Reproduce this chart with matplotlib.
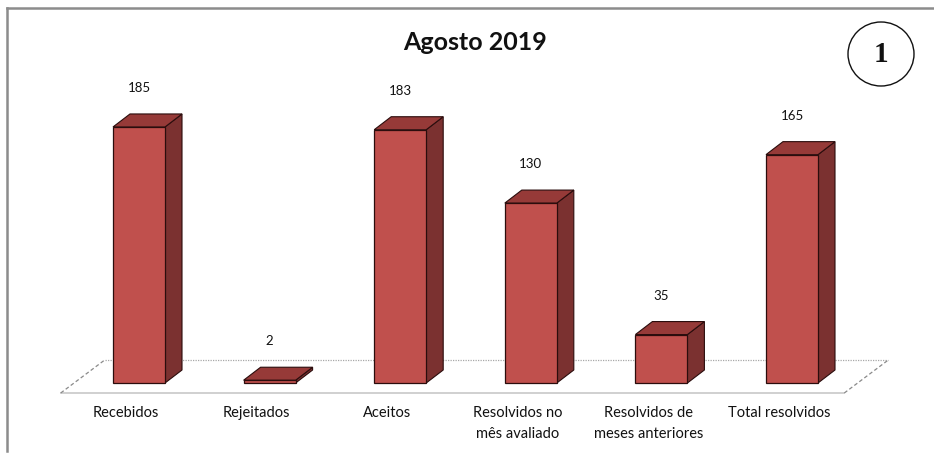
import matplotlib
matplotlib.use("Agg")
import matplotlib.pyplot as plt
from matplotlib.patches import Polygon, Ellipse
from matplotlib.lines import Line2D

categories = ["Recebidos", "Rejeitados", "Aceitos", "Resolvidos no\nmês avaliado",
              "Resolvidos de\nmeses anteriores", "Total resolvidos"]
values = [185, 2, 183, 130, 35, 165]
title = "Agosto 2019"
badge = "1"

FRONT = "#C0504D"
SIDE = "#7B3130"
TOP = "#963A38"
EDGE = "#2b0d0d"

W, H = 934, 453
fig = plt.figure(figsize=(W / 100, H / 100), dpi=100)
fig.patch.set_facecolor("white")

# axes geometry in pixels
left_px, right_px, base_px, ymax = 73.7, 857.3, 383.0, 200.0
uy_px = 1.384
top_px = base_px - ymax * uy_px
ax = fig.add_axes([left_px / W, (H - base_px) / H, (right_px - left_px) / W, (base_px - top_px) / H])
ax.set_xlim(-0.5, len(values) - 0.5)
ax.set_ylim(0, ymax)
ax.axis("off")

ux = (right_px - left_px) / len(values)  # px per x unit
uy = uy_px

def px(dx, dy):
    """pixel offset (right, up) -> data offset"""
    return dx / ux, dy / uy

fnt = ["Lato", "DejaVu Sans"]

# floor
fx0, fx1 = -0.5, len(values) - 0.5
fdx, fdy = px(-13, -10)
bdx, bdy = px(31, 23)
floor = Polygon([(fx0 + fdx, fdy), (fx1 + fdx, fdy), (fx1 + bdx, bdy), (fx0 + bdx, bdy)],
                closed=True, facecolor="white", edgecolor="none", zorder=1, clip_on=False)
ax.add_patch(floor)
ax.plot([fx0 + fdx, fx1 + fdx], [fdy, fdy], color="#c8c8c8", lw=1.2, zorder=1.1, clip_on=False)
ax.plot([fx0 + bdx, fx1 + bdx], [bdy, bdy], color="#a8a8a8", lw=0.9, ls=(0, (1, 1)), zorder=1.1, clip_on=False)
ax.plot([fx0 + fdx, fx0 + bdx], [fdy, bdy], color="#8a8a8a", lw=0.9, ls=(0, (3, 2)), zorder=1.1, clip_on=False)
ax.plot([fx1 + fdx, fx1 + bdx], [fdy, bdy], color="#8a8a8a", lw=0.9, ls=(0, (3, 2)), zorder=1.1, clip_on=False)

bw = 52 / ux
ddx, ddy = px(17, 13)
for i, v in enumerate(values):
    x0, x1 = i - bw / 2, i + bw / 2
    # side face
    ax.add_patch(Polygon([(x1, 0), (x1 + ddx, ddy), (x1 + ddx, v + ddy), (x1, v)],
                         closed=True, facecolor=SIDE, edgecolor=EDGE, lw=0.8, zorder=3, clip_on=False))
    # top face
    ax.add_patch(Polygon([(x0, v), (x0 + ddx, v + ddy), (x1 + ddx, v + ddy), (x1, v)],
                         closed=True, facecolor=TOP, edgecolor=EDGE, lw=0.8, zorder=3, clip_on=False))
    ax.bar(i, v, width=bw, color=FRONT, edgecolor=EDGE, linewidth=0.9, zorder=4, clip_on=False)
    ax.annotate(str(v), (i, v), xytext=(0, 39 * 0.72), textcoords="offset points",
                ha="center", va="center", fontsize=9.5, family=fnt, color="#111111")
    ax.annotate(categories[i], (i, 0), xytext=(-13 * 0.72, -23 * 0.72), textcoords="offset points",
                ha="center", va="top", fontsize=10.5, family=fnt, color="#111111",
                linespacing=1.65, multialignment="center")

# title
fig.text(475 / W, 1 - 42 / H, title, ha="center", va="center", fontsize=18,
         fontweight="bold", family=fnt, color="#111111")

# badge
ell = Ellipse((881 / W, 1 - 54 / H), 66 / W, 64 / H, transform=fig.transFigure,
              facecolor="white", edgecolor="#111111", lw=1.0)
fig.patches.append(ell)
fig.text(881 / W, 1 - 55 / H, badge, ha="center", va="center", fontsize=21,
         fontweight="bold", family=["Liberation Serif", "DejaVu Serif"], color="#111111")

# frame
fig.lines.append(Line2D([7 / W, 1], [1 - 8 / H, 1 - 8 / H], transform=fig.transFigure, color="#8c8c8c", lw=1.8))
fig.lines.append(Line2D([7 / W, 7 / W], [1 - 8 / H, 1 - 451 / H], transform=fig.transFigure, color="#8c8c8c", lw=1.8))

fig.savefig("out.png", dpi=100, facecolor="white")
